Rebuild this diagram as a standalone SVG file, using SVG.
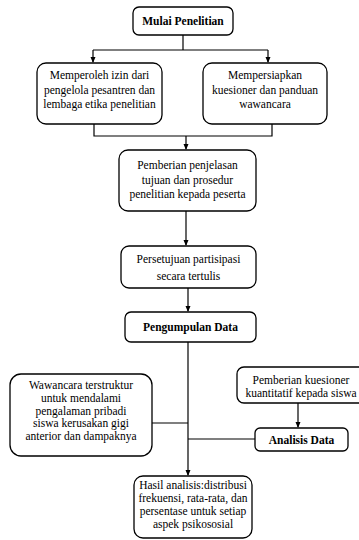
<svg xmlns="http://www.w3.org/2000/svg" width="359" height="540" viewBox="0 0 359 540">
<style>
.box{fill:#fff;stroke:#000;stroke-width:1.3}
.t{font-family:'Liberation Serif','Times New Roman',serif;font-size:11.5px;fill:#000;text-anchor:middle}
.b{font-weight:bold}
.c{stroke:#000;stroke-width:1.2;fill:none}
</style>
<defs>
<marker id="ah" markerWidth="6" markerHeight="6" refX="5" refY="3" orient="auto" markerUnits="userSpaceOnUse">
<path d="M0,0.5 L6,3 L0,5.5 Z" fill="#000"/>
</marker>
</defs>
<rect width="359" height="540" fill="#fff"/>
<g id="connectors">
<path class="c" d="M183,35 V50"/>
<path class="c" d="M93,50 H268"/>
<path class="c" d="M93,50 V62" marker-end="url(#ah)"/>
<path class="c" d="M268,50 V62" marker-end="url(#ah)"/>
<path class="c" d="M94,124 V136 H272 V124"/>
<path class="c" d="M186,136 V149" marker-end="url(#ah)"/>
<path class="c" d="M186,211 V245" marker-end="url(#ah)"/>
<path class="c" d="M188,288 V311" marker-end="url(#ah)"/>
<path class="c" d="M188,342 V475" marker-end="url(#ah)"/>
<path class="c" d="M152,423 H188"/>
<path class="c" d="M188,439 H255"/>
<path class="c" d="M298,403 V427" marker-end="url(#ah)"/>
</g>
<g id="mulai">
<rect class="box" x="133" y="7" width="100" height="28" rx="6"/>
<text class="t b" x="183" y="25">Mulai Penelitian</text>
</g>
<g id="izin">
<rect class="box" x="37" y="63" width="125" height="61" rx="9"/>
<text class="t" x="99.5" y="79">Memperoleh izin dari</text>
<text class="t" x="99.5" y="94">pengelola pesantren dan</text>
<text class="t" x="99.5" y="108">lembaga etika penelitian</text>
</g>
<g id="kuesioner">
<rect class="box" x="203" y="63" width="124" height="61" rx="9"/>
<text class="t" x="265" y="79">Mempersiapkan</text>
<text class="t" x="265" y="94">kuesioner dan panduan</text>
<text class="t" x="265" y="108">wawancara</text>
</g>
<g id="penjelasan">
<rect class="box" x="119" y="150" width="137" height="61" rx="9"/>
<text class="t" x="187.5" y="169">Pemberian penjelasan</text>
<text class="t" x="187.5" y="184">tujuan dan prosedur</text>
<text class="t" x="187.5" y="198">penelitian kepada peserta</text>
</g>
<g id="persetujuan">
<rect class="box" x="121" y="246" width="135" height="42" rx="8"/>
<text class="t" x="188.5" y="263">Persetujuan partisipasi</text>
<text class="t" x="188.5" y="280">secara tertulis</text>
</g>
<g id="pengumpulan">
<rect class="box" x="125" y="312" width="131" height="30" rx="6"/>
<text class="t b" x="190.5" y="331">Pengumpulan Data</text>
</g>
<g id="wawancara">
<rect class="box" x="10" y="374" width="142" height="82" rx="11"/>
<text class="t" x="81" y="389">Wawancara terstruktur</text>
<text class="t" x="81" y="402">untuk mendalami</text>
<text class="t" x="81" y="415">pengalaman pribadi</text>
<text class="t" x="81" y="427">siswa kerusakan gigi</text>
<text class="t" x="81" y="440">anterior dan dampaknya</text>
</g>
<g id="kuantitatif">
<rect class="box" x="237" y="367" width="130" height="36" rx="7"/>
<text class="t" x="301" y="384">Pemberian kuesioner</text>
<text class="t" x="301" y="397">kuantitatif kepada siswa</text>
</g>
<g id="analisis">
<rect class="box" x="255" y="428" width="93" height="23" rx="5"/>
<text class="t b" x="301.5" y="444">Analisis Data</text>
</g>
<g id="hasil">
<rect class="box" x="134" y="476" width="118" height="62" rx="9"/>
<text class="t" x="193" y="489">Hasil analisis:distribusi</text>
<text class="t" x="193" y="502">frekuensi, rata-rata, dan</text>
<text class="t" x="193" y="514.5">persentase untuk setiap</text>
<text class="t" x="193" y="527.5">aspek psikososial</text>
</g>
</svg>
